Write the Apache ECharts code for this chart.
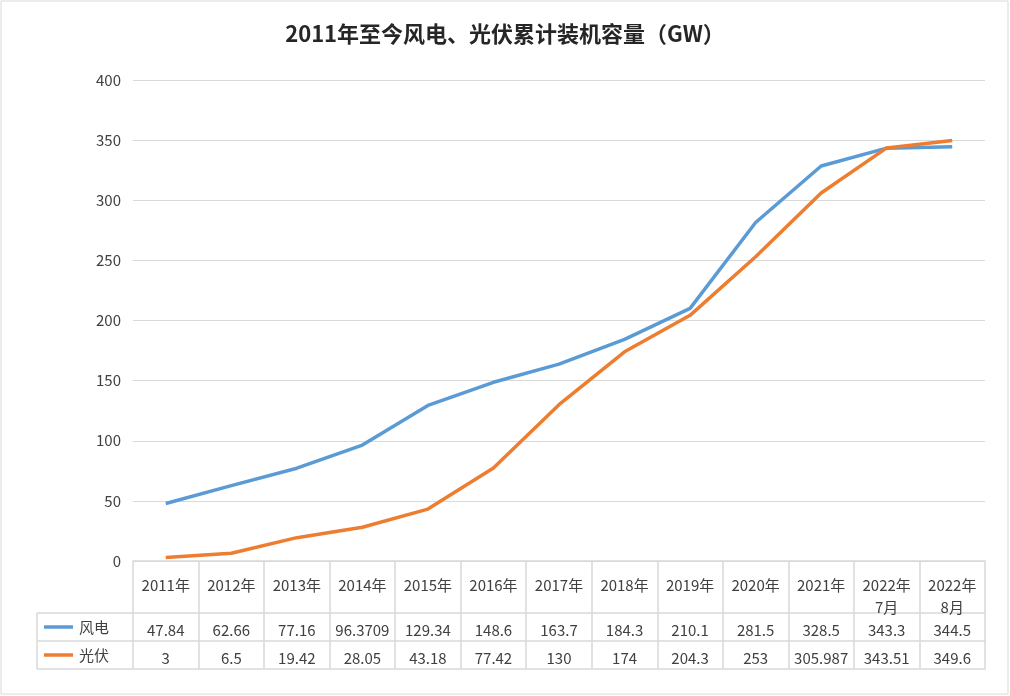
<!DOCTYPE html><html><head><meta charset="utf-8"><script src="https://cdn.jsdelivr.net/npm/echarts@6/dist/echarts.min.js"></script>
<style>body{margin:0}#c{width:1010px;height:696px}</style></head><body><div id="c"></div><script>
const categories=['2011年','2012年','2013年','2014年','2015年','2016年','2017年','2018年','2019年','2020年','2021年','2022年\n7月','2022年\n8月'];
const windLabels=['47.84','62.66','77.16','96.3709','129.34','148.6','163.7','184.3','210.1','281.5','328.5','343.3','344.5'];
const solarLabels=['3','6.5','19.42','28.05','43.18','77.42','130','174','204.3','253','305.987','343.51','349.6'];
const wind=windLabels.map(Number);
const solar=solarLabels.map(Number);
const F='"Noto Sans CJK SC", sans-serif';
const lineC='#d9d9d9', txt='#404040';
const ch=echarts.init(document.getElementById('c'));
const ax=(data,offset,margin,show)=>({type:'category',data,position:'bottom',offset,gridIndex:0,boundaryGap:true,
 axisLine:{show:true,lineStyle:{color:lineC,width:1.5}},
 axisTick:{show:offset===0,interval:0,length:108,lineStyle:{color:lineC,width:1.5}},
 axisLabel:{show:show,interval:0,margin,color:txt,fontSize:15,fontFamily:F,lineHeight:22}});
ch.setOption({
 animation:false,backgroundColor:'#fff',
 title:{text:'2011年至今风电、光伏累计装机容量（GW）',left:'center',top:18,textStyle:{fontFamily:F,fontSize:22,fontWeight:'bold',color:'#262626'}},
 grid:{left:133,right:25,top:80,bottom:135,containLabel:false},
 xAxis:[ax(categories,0,13,true),ax(windLabels,52,6,true),ax(solarLabels,80,6,true),ax(solarLabels,108,6,false)],
 yAxis:{type:'value',min:0,max:400,interval:50,axisLine:{show:false},axisTick:{show:false},
  splitLine:{lineStyle:{color:lineC,width:1.2}},axisLabel:{color:txt,fontSize:15,fontFamily:F,margin:12}},
 series:[
  {name:'风电',type:'line',data:wind,symbol:'none',lineStyle:{color:'#5b9bd5',width:3.5},itemStyle:{color:'#5b9bd5'}},
  {name:'光伏',type:'line',data:solar,symbol:'none',lineStyle:{color:'#ed7d31',width:3.5},itemStyle:{color:'#ed7d31'}}],
 graphic:[
  {type:'rect',shape:{x:1,y:1,width:1007,height:693},style:{fill:'none',stroke:'#d9d9d9',lineWidth:1}},
  {type:'line',shape:{x1:37,y1:613,x2:133,y2:613},style:{stroke:lineC,lineWidth:1.5}},
  {type:'line',shape:{x1:37,y1:641,x2:133,y2:641},style:{stroke:lineC,lineWidth:1.5}},
  {type:'line',shape:{x1:37,y1:669,x2:133,y2:669},style:{stroke:lineC,lineWidth:1.5}},
  {type:'line',shape:{x1:37,y1:613,x2:37,y2:669},style:{stroke:lineC,lineWidth:1.5}},
  {type:'line',shape:{x1:44,y1:627,x2:73,y2:627},style:{stroke:'#5b9bd5',lineWidth:3.5}},
  {type:'line',shape:{x1:44,y1:655,x2:73,y2:655},style:{stroke:'#ed7d31',lineWidth:3.5}},
  {type:'text',x:79,y:627,style:{text:'风电',fill:txt,font:'15px '+F,textVerticalAlign:'middle'}},
  {type:'text',x:79,y:655,style:{text:'光伏',fill:txt,font:'15px '+F,textVerticalAlign:'middle'}}
 ]
});
</script></body></html>
